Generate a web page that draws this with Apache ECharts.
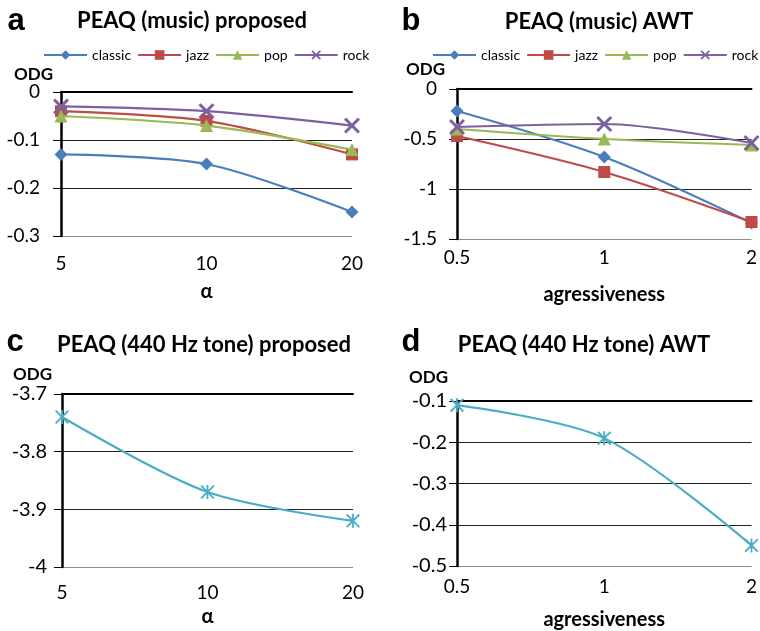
<!DOCTYPE html>
<html><head><meta charset="utf-8">
<script src="https://cdn.jsdelivr.net/npm/echarts@6/dist/echarts.min.js"></script>
<style>html,body{margin:0;padding:0;background:#fff}#c{width:760px;height:631px}</style>
</head><body><div id="c"></div>
<script>
const catsAlpha = ['5', '10', '20'];
const catsAggr = ['0.5', '1', '2'];
const seriesNames = ['classic', 'jazz', 'pop', 'rock'];
// panel a: PEAQ (music) proposed
const aClassic = [-0.13, -0.15, -0.25];
const aJazz = [-0.04, -0.06, -0.13];
const aPop = [-0.05, -0.07, -0.12];
const aRock = [-0.03, -0.04, -0.07];
// panel b: PEAQ (music) AWT
const bClassic = [-0.22, -0.68, -1.34];
const bJazz = [-0.47, -0.83, -1.33];
const bPop = [-0.40, -0.50, -0.56];
const bRock = [-0.38, -0.35, -0.54];
// panel c: PEAQ (440 Hz tone) proposed
const cTone = [-3.74, -3.87, -3.92];
// panel d: PEAQ (440 Hz tone) AWT
const dTone = [-0.11, -0.19, -0.45];

const titles = ['PEAQ (music) proposed', 'PEAQ (music) AWT', 'PEAQ (440 Hz tone) proposed', 'PEAQ (440 Hz tone) AWT'];
const letters = ['a', 'b', 'c', 'd'];

const FONT = 'Lato, "Open Sans", sans-serif';
const colors = ['#4A7EBB', '#BE4B48', '#98B954', '#7D60A0'];
const TONE = '#4BACC6';
const XSYM = 'path://M0,1.3 L1.3,0 L5,3.7 L8.7,0 L10,1.3 L6.3,5 L10,8.7 L8.7,10 L5,6.3 L1.3,10 L0,8.7 L3.7,5 Z';
const STAR = 'path://M4.35,0 L5.65,0 L5.65,10 L4.35,10 Z M0,0.9 L0.9,0 L10,9.1 L9.1,10 Z M9.1,0 L10,0.9 L0.9,10 L0,9.1 Z';
const symbols = ['diamond', 'rect', 'triangle', XSYM];
const symSizes = [13, 12, 13, 16];

const grids = [
  {left: 61, top: 92, width: 291, height: 144},
  {left: 457, top: 89, width: 296, height: 150},
  {left: 62, top: 394, width: 291, height: 173},
  {left: 457, top: 401, width: 296, height: 166}
];
const yCfg = [
  {min: -0.3, max: 0, interval: 0.1, margin: 21, gap: 8, pad: 8, fs: 19},
  {min: -1.5, max: 0, interval: 0.5, margin: 20, gap: 11, pad: 12, fs: 19},
  {min: -4, max: -3.7, interval: 0.1, margin: 15, gap: 11, pad: 10, fs: 20},
  {min: -0.5, max: -0.1, interval: 0.1, margin: 10, gap: 15, pad: 9, fs: 20}
];
const xCfg = [
  {cats: catsAlpha, name: 'α', margin: 18, nameGap: 46},
  {cats: catsAggr, name: 'agressiveness', margin: 9, nameGap: 46},
  {cats: catsAlpha, name: 'α', margin: 16, nameGap: 40},
  {cats: catsAggr, name: 'agressiveness', margin: 11, nameGap: 44}
];

const xAxis = [], yAxis = [];
grids.forEach((g, i) => {
  const xc = xCfg[i], yc = yCfg[i];
  xAxis.push({
    type: 'category', gridIndex: i, data: xc.cats, boundaryGap: false, position: 'bottom',
    axisLine: {show: false}, axisTick: {show: false},
    axisLabel: {fontFamily: FONT, fontSize: 19, color: '#000', margin: xc.margin},
    name: xc.name, nameLocation: 'middle', nameGap: xc.nameGap,
    nameTextStyle: {fontFamily: FONT, fontSize: 20, fontWeight: 'bold', color: '#000'}
  });
  xAxis.push({
    type: 'category', gridIndex: i, data: xc.cats, boundaryGap: false, position: 'top',
    axisLine: {show: true, onZero: false, lineStyle: {color: '#000', width: 2}},
    axisTick: {show: false}, axisLabel: {show: false}, splitLine: {show: false}
  });
  const n = Math.round((yc.max - yc.min) / yc.interval) + 1;
  const splitColors = ['#8c8c8c'];
  for (let k = 1; k < n; k++) splitColors.push('#222');
  yAxis.push({
    type: 'value', gridIndex: i, min: yc.min, max: yc.max, interval: yc.interval,
    axisLine: {show: true, onZero: false, lineStyle: {color: '#000', width: 2.5}},
    axisTick: {show: true, length: 8, lineStyle: {color: '#000', width: 1}},
    splitLine: {show: true, lineStyle: {color: splitColors, width: 1}},
    axisLabel: {fontFamily: FONT, fontSize: yc.fs, color: '#000', align: 'right', margin: yc.margin,
      formatter: v => String(+v.toFixed(2))},
    name: 'ODG', nameLocation: 'end', nameGap: yc.gap,
    nameTextStyle: {fontFamily: FONT, fontSize: 17, fontWeight: 'bold', color: '#000', align: 'right', padding: [0, yc.pad, 0, 0]}
  });
});

const series = [];
const musicData = [[aClassic, aJazz, aPop, aRock], [bClassic, bJazz, bPop, bRock]];
musicData.forEach((set, p) => {
  set.forEach((vals, k) => {
    series.push({
      type: 'line', name: seriesNames[k], xAxisIndex: 2 * p, yAxisIndex: p, data: vals,
      smooth: 0.3, symbol: symbols[k], symbolSize: symSizes[k],
      lineStyle: {color: colors[k], width: 2.2}, itemStyle: {color: colors[k]}, z: 3 + k
    });
  });
});
[[cTone, 2], [dTone, 3]].forEach(([vals, p]) => {
  series.push({
    type: 'line', name: '440 Hz tone', xAxisIndex: 2 * p, yAxisIndex: p, data: vals,
    smooth: 0.3, symbol: STAR, symbolSize: 14,
    lineStyle: {color: TONE, width: 2.2}, itemStyle: {color: TONE}
  });
});

const legendBase = {
  data: seriesNames, orient: 'horizontal', itemWidth: 43, itemHeight: 12, itemGap: 6,
  padding: 0, width: 420,
  textStyle: {fontFamily: FONT, fontSize: 14, color: '#000'}, selectedMode: false
};

const titlePos = [[192, 21], [599, 22], [204, 345], [584, 345]];
const letterPos = [[16, 21], [411, 21], [15, 342], [411, 342]];
const graphic = [];
titles.forEach((t, i) => {
  graphic.push({type: 'text', x: titlePos[i][0], y: titlePos[i][1],
    style: {text: t, font: 'bold 22px ' + FONT, fill: '#000', align: 'center', verticalAlign: 'middle'}});
  graphic.push({type: 'text', x: letterPos[i][0], y: letterPos[i][1],
    style: {text: letters[i], font: 'bold 31px "Liberation Sans", Arial, sans-serif', fill: '#000', align: 'center', verticalAlign: 'middle'}});
});

const chart = echarts.init(document.getElementById('c'), null, {renderer: 'canvas'});
chart.setOption({
  backgroundColor: '#fff',
  animation: false,
  grid: grids,
  xAxis: xAxis,
  yAxis: yAxis,
  legend: [
    Object.assign({}, legendBase, {left: 43, top: 48}),
    Object.assign({}, legendBase, {left: 432, top: 48})
  ],
  graphic: graphic,
  series: series
});
</script></body></html>
